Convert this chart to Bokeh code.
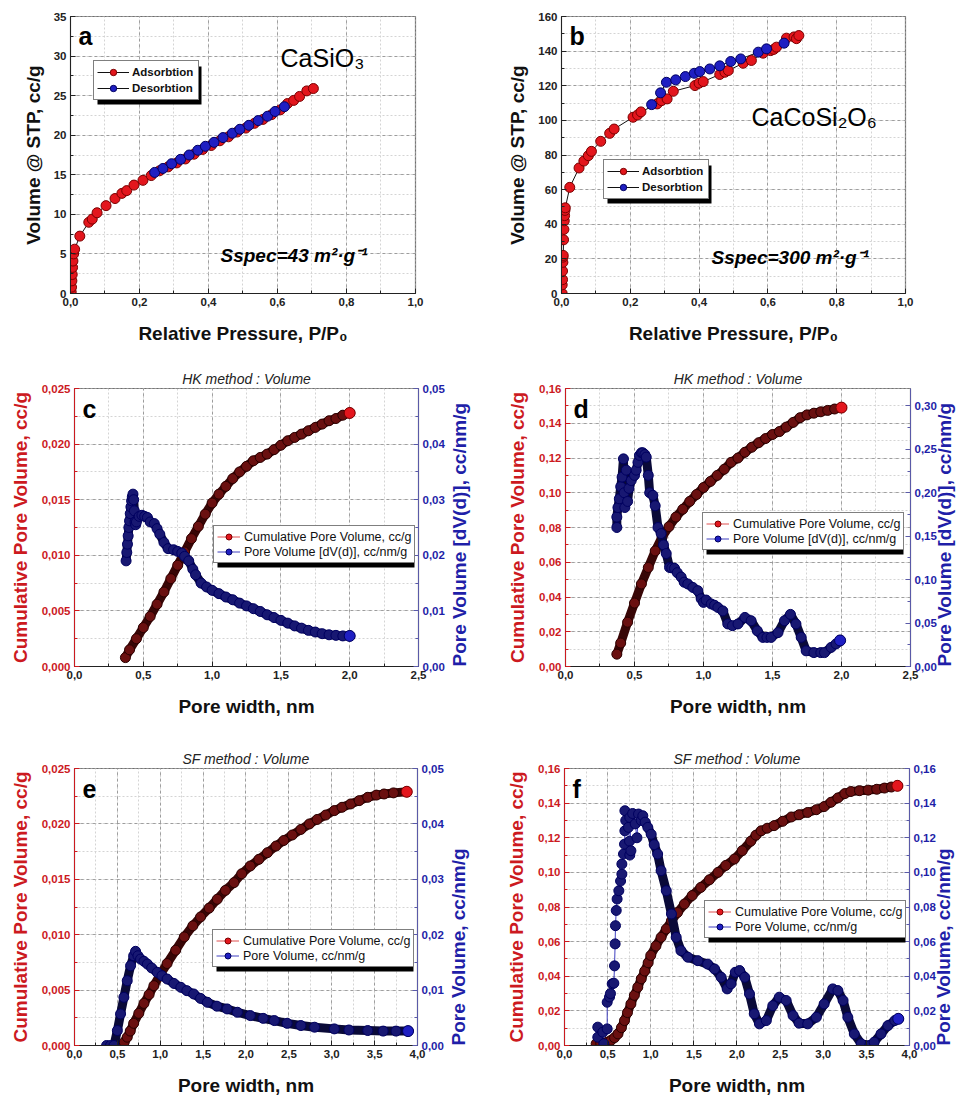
import math
from bokeh.plotting import figure
from bokeh.models import (Range1d, LinearAxis, SingleIntervalTicker, CustomJSTickFormatter,
                          Legend, LegendItem, Label, BoxAnnotation)
from bokeh.layouts import column, row
from bokeh.embed import file_html
from bokeh.resources import INLINE

# ---------------- data ----------------
# (a) CaSiO3 isotherm
a_ads_x = [0.002, 0.003, 0.004, 0.005, 0.006, 0.007, 0.009, 0.012, 0.027, 0.053,
           0.063, 0.077, 0.103, 0.129, 0.149, 0.163, 0.184, 0.210, 0.234, 0.258,
           0.283, 0.308, 0.333, 0.358, 0.383, 0.408, 0.433, 0.458, 0.483, 0.508,
           0.533, 0.558, 0.583, 0.608, 0.629, 0.647, 0.664, 0.685, 0.704]
a_ads_y = [0.2, 0.8, 1.6, 2.4, 3.3, 4.1, 5.0, 5.6, 7.25, 9.0,
           9.4, 10.2, 11.1, 12.0, 12.65, 13.0, 13.7, 14.3, 14.9, 15.5,
           16.0, 16.5, 17.0, 17.6, 18.2, 18.7, 19.3, 19.8, 20.4, 20.9,
           21.5, 22.0, 22.6, 23.2, 24.0, 24.4, 24.9, 25.6, 25.9]
a_des_x = [0.244, 0.268, 0.293, 0.319, 0.344, 0.369, 0.391, 0.416, 0.442, 0.469,
           0.491, 0.517, 0.544, 0.571, 0.593, 0.620]
a_des_y = [15.3, 15.8, 16.4, 16.95, 17.5, 18.1, 18.6, 19.1, 19.7, 20.25,
           20.75, 21.25, 21.85, 22.4, 23.0, 23.6]

# (b) CaCoSi2O6 isotherm
b_ads_x = [0.002, 0.002, 0.003, 0.003, 0.004, 0.004, 0.005, 0.006, 0.007, 0.008,
           0.009, 0.010, 0.011, 0.024, 0.051, 0.065, 0.078, 0.087, 0.114, 0.140,
           0.153, 0.208, 0.221, 0.231, 0.278, 0.291, 0.307, 0.325, 0.388, 0.400,
           0.412, 0.460, 0.475, 0.485, 0.528, 0.552, 0.586, 0.608, 0.617, 0.625,
           0.654, 0.676, 0.683, 0.690]
b_ads_y = [0, 5, 8, 13, 18, 21, 22, 31, 37, 42,
           45, 48, 49.5, 61.3, 72.5, 76.5, 79.6, 82.1, 87.9, 92.5,
           95.0, 101.8, 103.1, 104.9, 109.5, 111.4, 112.4, 116.8, 120.1, 121.5,
           122.4, 126.5, 127.8, 128.8, 133.0, 134.6, 138.8, 140.3, 141.0, 142.3,
           147.5, 148.2, 147.2, 149.0]
b_des_x = [0.262, 0.288, 0.305, 0.332, 0.360, 0.386, 0.402, 0.431, 0.460, 0.492,
           0.521, 0.572, 0.596, 0.647]
b_des_y = [109.1, 115.9, 122.0, 123.4, 125.3, 127.2, 128.2, 129.7, 131.5, 134.0,
           135.5, 139.4, 141.3, 144.6]

# (c) HK, CaSiO3
c_cum_x = [0.37, 0.40, 0.45, 0.50, 0.55, 0.60, 0.65, 0.70, 0.75, 0.80,
           0.85, 0.90, 0.95, 1.00, 1.05, 1.10, 1.15, 1.20, 1.25, 1.30,
           1.35, 1.40, 1.45, 1.50, 1.55, 1.60, 1.65, 1.70, 1.75, 1.80,
           1.85, 1.90, 1.95, 2.00]
c_cum_y = [0.0008, 0.0015, 0.0025, 0.0035, 0.0045, 0.0056, 0.0067, 0.0079, 0.0091, 0.0103,
           0.0115, 0.0126, 0.0137, 0.0147, 0.0155, 0.0162, 0.0169, 0.0175, 0.0180, 0.0185,
           0.0188, 0.0191, 0.0195, 0.0199, 0.0203, 0.0206, 0.0209, 0.0212, 0.0215, 0.0218,
           0.0221, 0.0223, 0.0226, 0.0228]
c_pv_x = [0.375, 0.38, 0.385, 0.39, 0.395, 0.40, 0.405, 0.41, 0.415, 0.42,
          0.425, 0.43, 0.435, 0.44, 0.445, 0.45, 0.47, 0.49, 0.51, 0.53,
          0.55, 0.58, 0.60, 0.62, 0.65, 0.68, 0.72, 0.75, 0.78, 0.80,
          0.83, 0.86, 0.88, 0.92, 0.96, 1.00, 1.05, 1.10, 1.15, 1.20,
          1.25, 1.30, 1.35, 1.40, 1.45, 1.50, 1.55, 1.60, 1.65, 1.70,
          1.75, 1.80, 1.85, 1.90, 1.95, 2.00]
c_pv_y = [0.019, 0.0205, 0.022, 0.0235, 0.025, 0.0262, 0.0275, 0.0287, 0.0298, 0.0305,
          0.031, 0.030, 0.028, 0.026, 0.0255, 0.026, 0.027, 0.0272, 0.027, 0.0268,
          0.026, 0.0257, 0.0248, 0.0238, 0.0223, 0.0212, 0.021, 0.0207, 0.0204, 0.0198,
          0.019, 0.0175, 0.0165, 0.0150, 0.0143, 0.0137, 0.0131, 0.0125, 0.0120, 0.0114,
          0.0109, 0.0104, 0.0099, 0.0093, 0.0088, 0.0083, 0.0078, 0.0073, 0.0069, 0.0065,
          0.0062, 0.0059, 0.0057, 0.0056, 0.0055, 0.0055]

# (d) HK, CaCoSi2O6
d_cum_x = [0.372, 0.40, 0.45, 0.50, 0.55, 0.60, 0.65, 0.70, 0.75, 0.80,
           0.85, 0.90, 0.95, 1.00, 1.05, 1.10, 1.15, 1.20, 1.25, 1.30,
           1.35, 1.40, 1.45, 1.50, 1.55, 1.60, 1.65, 1.70, 1.75, 1.80,
           1.85, 1.90, 1.95, 2.00]
d_cum_y = [0.0071, 0.0135, 0.0255, 0.0365, 0.0475, 0.057, 0.0665, 0.0745, 0.0805, 0.086,
           0.0905, 0.095, 0.099, 0.103, 0.1065, 0.110, 0.1135, 0.1175, 0.120, 0.1233,
           0.1262, 0.1288, 0.1312, 0.1335, 0.1352, 0.1378, 0.1405, 0.1432, 0.1448, 0.1458,
           0.1466, 0.1474, 0.1482, 0.149]
d_pv_x = [0.372, 0.372, 0.38, 0.39, 0.40, 0.41, 0.42, 0.425, 0.43, 0.44,
          0.45, 0.46, 0.476, 0.50, 0.512, 0.525, 0.536, 0.55, 0.56, 0.575,
          0.585, 0.60, 0.61, 0.633, 0.65, 0.67, 0.693, 0.71, 0.73, 0.754,
          0.77, 0.79, 0.81, 0.838, 0.86, 0.886, 0.923, 0.959, 0.983, 1.0,
          1.019, 1.056, 1.08, 1.104, 1.14, 1.176, 1.21, 1.25, 1.3, 1.345,
          1.39, 1.43, 1.46, 1.49, 1.54, 1.587, 1.63, 1.67, 1.708, 1.744,
          1.8, 1.85, 1.877, 1.925, 1.96, 1.99]
d_pv_y = [0.160, 0.172, 0.183, 0.193, 0.207, 0.218, 0.239, 0.200, 0.183, 0.226,
          0.190, 0.205, 0.214, 0.220, 0.226, 0.235, 0.243, 0.246, 0.246, 0.244,
          0.241, 0.220, 0.200, 0.197, 0.185, 0.160, 0.153, 0.140, 0.130, 0.114,
          0.1135, 0.113, 0.108, 0.103, 0.097, 0.095, 0.091, 0.0873, 0.078, 0.0738,
          0.0765, 0.072, 0.0705, 0.068, 0.064, 0.049, 0.047, 0.049, 0.0565, 0.0527,
          0.041, 0.0335, 0.0335, 0.0335, 0.039, 0.0527, 0.060, 0.049, 0.0335, 0.018,
          0.016, 0.016, 0.016, 0.022, 0.026, 0.030]

# (e) SF, CaSiO3
e_cum_x = [0.545, 0.58, 0.615, 0.65, 0.69, 0.75, 0.81, 0.87, 0.926, 1.0,
           1.08, 1.18, 1.28, 1.38, 1.47, 1.57, 1.665, 1.76, 1.86, 1.95,
           2.05, 2.15, 2.25, 2.35, 2.44, 2.54, 2.64, 2.74, 2.83, 2.93,
           3.03, 3.12, 3.22, 3.32, 3.42, 3.52, 3.61, 3.72, 3.875]
e_cum_y = [0.0, 0.0003, 0.00075, 0.0013, 0.002, 0.0029, 0.0038, 0.0046, 0.0054, 0.0064,
           0.0074, 0.0086, 0.0098, 0.0108, 0.0116, 0.0124, 0.0132, 0.014, 0.0147, 0.0155,
           0.0162, 0.0168, 0.0174, 0.018, 0.0185, 0.019, 0.0195, 0.020, 0.0204, 0.0208,
           0.0212, 0.0215, 0.0218, 0.0221, 0.0224, 0.0226, 0.0227, 0.0228, 0.0229]
e_pv_x = [0.374, 0.42, 0.46, 0.5, 0.537, 0.576, 0.615, 0.654, 0.69, 0.712,
          0.74, 0.77, 0.81, 0.85, 0.9, 0.965, 1.02, 1.08, 1.16, 1.24,
          1.31, 1.39, 1.47, 1.55, 1.66, 1.78, 1.9, 2.05, 2.2, 2.33,
          2.48, 2.64, 2.8, 3.03, 3.2, 3.42, 3.6, 3.75, 3.89]
e_pv_y = [0.0, 0.0, 0.0, 0.0027, 0.0057, 0.0087, 0.0117, 0.0144, 0.0162, 0.017,
          0.0162, 0.0156, 0.0152, 0.0147, 0.014, 0.0132, 0.0126, 0.012, 0.0112, 0.0105,
          0.0099, 0.0093, 0.0085, 0.0078, 0.0071, 0.0066, 0.006, 0.0054, 0.0049, 0.0045,
          0.004, 0.0036, 0.0033, 0.003, 0.0028, 0.0027, 0.0026, 0.0026, 0.0026]

# (f) SF, CaCoSi2O6
f_cum_x = [0.367, 0.42, 0.464, 0.5, 0.54, 0.58, 0.62, 0.66, 0.696, 0.73,
           0.77, 0.81, 0.85, 0.89, 0.93, 0.97, 1.0, 1.06, 1.12, 1.18,
           1.24, 1.31, 1.39, 1.48, 1.58, 1.68, 1.78, 1.87, 1.97, 2.06,
           2.16, 2.22, 2.28, 2.35, 2.43, 2.53, 2.63, 2.72, 2.82, 2.92,
           3.01, 3.09, 3.17, 3.25, 3.32, 3.42, 3.52, 3.62, 3.71, 3.79,
           3.86]
f_cum_y = [0.001, 0.0012, 0.0013, 0.002, 0.003, 0.0045, 0.0067, 0.0103, 0.0144, 0.019,
           0.024, 0.029, 0.0337, 0.0385, 0.043, 0.0478, 0.052, 0.0575, 0.0625, 0.0673,
           0.072, 0.0768, 0.0817, 0.0866, 0.0913, 0.0957, 0.100, 0.104, 0.1077, 0.1125,
           0.118, 0.1215, 0.124, 0.1255, 0.127, 0.1295, 0.132, 0.1333, 0.1346, 0.1362,
           0.138, 0.1405, 0.143, 0.1455, 0.1467, 0.1472, 0.1475, 0.148, 0.1487, 0.1493,
           0.150]
f_pv_x = [0.386, 0.386, 0.444, 0.456, 0.495, 0.495, 0.522, 0.533, 0.553, 0.572,
          0.58, 0.587, 0.591, 0.6, 0.61, 0.63, 0.65, 0.665, 0.665, 0.684,
          0.696, 0.70, 0.71, 0.70, 0.742, 0.754, 0.757, 0.77, 0.757, 0.79,
          0.82, 0.84, 0.858, 0.889, 0.908, 0.935, 0.966, 1.005, 1.04, 1.08,
          1.12, 1.18, 1.24, 1.295, 1.35, 1.43, 1.546, 1.66, 1.74, 1.816,
          1.886, 1.93, 1.98, 2.03, 2.09, 2.145, 2.2, 2.26, 2.34, 2.415,
          2.49, 2.57, 2.65, 2.72, 2.82, 2.92, 3.01, 3.11, 3.17, 3.23,
          3.285, 3.36, 3.44, 3.54, 3.59, 3.67, 3.75, 3.83, 3.87]
f_pv_y = [0.0106, 0.0048, 0.0077, 0.001, 0.0096, 0.025, 0.028, 0.030, 0.0356, 0.036,
          0.046, 0.0587, 0.0692, 0.078, 0.0846, 0.0894, 0.095, 0.099, 0.1048, 0.1106,
          0.1163, 0.124, 0.13, 0.1356, 0.126, 0.118, 0.11, 0.1125, 0.1317, 0.134,
          0.128, 0.12, 0.1337, 0.13, 0.1327, 0.129, 0.126, 0.122, 0.116, 0.1106,
          0.101, 0.0894, 0.076, 0.0625, 0.0548, 0.051, 0.049, 0.047, 0.0442, 0.0394,
          0.0327, 0.0356, 0.0423, 0.0433, 0.0394, 0.0298, 0.0183, 0.0125, 0.0144, 0.023,
          0.0279, 0.026, 0.0173, 0.0129, 0.0125, 0.0163, 0.024, 0.0327, 0.0317, 0.026,
          0.0163, 0.0067, 0.001, 0.0, 0.0019, 0.0067, 0.0115, 0.0144, 0.0154]
F_DENSE_START = 35

# ---------------- style ----------------
SANS = "Liberation Sans"
RED = "#e3161d"; RED_EDGE = "#7a0000"; RED_DENSE = "#6a1010"; RED_BAND = "#380606"
BLUE = "#1f1fc2"; BLUE_EDGE = "#000060"; BLUE_DENSE = "#181872"; BLUE_BAND = "#0a0a38"
AXRED = "#cc1a1f"; AXBLUE = "#1f1fa8"


def fmt(d):
    return CustomJSTickFormatter(args=dict(d=d), code="return tick.toFixed(d).replace('.', ',');")


def style_axis(ax, label, color, tick_color, standoff=4, line_color=None):
    ax.axis_label = label
    ax.axis_label_text_font = SANS
    ax.axis_label_text_font_style = "bold"
    ax.axis_label_text_font_size = "19px"
    ax.axis_label_text_color = color
    ax.axis_label_standoff = standoff
    ax.major_label_text_font = SANS
    ax.major_label_text_font_style = "bold"
    ax.major_label_text_font_size = "11.5px"
    ax.major_label_text_color = tick_color
    ax.major_label_standoff = 4
    lc = line_color or tick_color
    ax.axis_line_color = lc
    ax.major_tick_line_color = lc
    ax.minor_tick_line_color = lc
    ax.major_tick_in = 5
    ax.major_tick_out = 0
    ax.minor_tick_in = 3
    ax.minor_tick_out = 0


def make_fig(geo, xr, yr, xint, yint, xdec, ydec, title=None):
    W, H, bl, br, bt, bb = geo
    eps = (yr[1] - yr[0]) * 1e-6
    p = figure(width=W, height=H, x_range=Range1d(xr[0], xr[1] + 1e-6), y_range=Range1d(yr[0], yr[1] + eps),
               output_backend="svg", toolbar_location=None,
               min_border_left=bl, min_border_right=br, min_border_top=bt, min_border_bottom=bb)
    p.outline_line_color = "#6e6e6e"
    p.outline_line_width = 1.2
    xt = SingleIntervalTicker(interval=xint, num_minor_ticks=2)
    yt = SingleIntervalTicker(interval=yint, num_minor_ticks=2)
    p.xaxis[0].ticker = xt
    p.xgrid[0].ticker = xt
    p.yaxis[0].ticker = yt
    p.ygrid[0].ticker = yt
    p.xaxis[0].formatter = fmt(xdec)
    p.yaxis[0].formatter = fmt(ydec)
    p.grid.grid_line_color = "#8c8c8c"
    p.grid.grid_line_dash = "3 3"
    p.grid.grid_line_width = 0.8
    p.grid.minor_grid_line_color = "#d4d4d4"
    p.grid.minor_grid_line_dash = "2 2"
    if title:
        p.title.text = title
        p.title.text_font = SANS
        p.title.text_font_style = "italic"
        p.title.text_font_size = "14px"
        p.title.text_color = "#222222"
        p.title.align = "center"
        p.title.standoff = 4
    return p


def fx(geo, xr, px):
    W, H, bl, br, bt, bb = geo
    return xr[0] + px / (W - bl - br) * (xr[1] - xr[0])


def fy(geo, yr, py):
    W, H, bl, br, bt, bb = geo
    return yr[0] + py / (H - bt - bb) * (yr[1] - yr[0])


def add_text(p, geo, xr, yr, px, py, text, size, style="bold", color="black"):
    p.add_layout(Label(x=fx(geo, xr, px), y=fy(geo, yr, py), text=text, text_font=SANS,
                       text_font_size=size, text_font_style=style, text_color=color,
                       text_baseline="middle", text_align="left"))


def add_legend(p, geo, xr, yr, items, lx, ly, pad, glyph_w, standoff, label_w, row_h,
               font_size, font_style):
    lw = 2 * pad + glyph_w + standoff + label_w
    lh = 2 * pad + 2 * row_h
    p.add_layout(BoxAnnotation(left=fx(geo, xr, lx + 4), right=fx(geo, xr, lx + 4 + lw),
                               bottom=fy(geo, yr, ly - 4), top=fy(geo, yr, ly - 4 + lh),
                               fill_color="black", fill_alpha=1.0, line_color=None))
    leg = Legend(items=items, location=(lx, ly), padding=pad, spacing=0, margin=0,
                 glyph_width=glyph_w, glyph_height=row_h, label_height=row_h,
                 label_width=label_w, label_standoff=standoff,
                 border_line_color="black", border_line_width=1,
                 background_fill_color="white", background_fill_alpha=1.0,
                 label_text_font=SANS, label_text_font_size=font_size,
                 label_text_font_style=font_style, label_text_color="#111111")
    p.add_layout(leg)


def iso_panel(geo, yr, yint, ads_x, ads_y, des_x, des_y, letter, formula, fpos, sspec, spos, lpos):
    xr = (0.0, 1.0)
    p = make_fig(geo, xr, yr, 0.2, yint, 1, 0)
    style_axis(p.xaxis[0], "Relative Pressure, P/P\u2080", "#111111", "#222222", standoff=14)
    style_axis(p.yaxis[0], "Volume @ STP, cc/g", "#111111", "#222222", standoff=7)
    la = p.line(ads_x, ads_y, line_color="#111111", line_width=1)
    ld = p.line(des_x, des_y, line_color="#111111", line_width=1)
    ra = p.scatter(ads_x, ads_y, marker="circle", size=10, fill_color=RED, line_color=RED_EDGE, line_width=1)
    rd = p.scatter(des_x, des_y, marker="circle", size=10, fill_color=BLUE, line_color=BLUE_EDGE, line_width=1)
    add_text(p, geo, xr, yr, 8, geo[1] - geo[4] - geo[5] - 19, letter, "25px")
    add_text(p, geo, xr, yr, fpos[0], fpos[1], formula, "25px", style="normal")
    add_text(p, geo, xr, yr, spos[0], spos[1], sspec, "19px", style="bold italic")
    items = [LegendItem(label="Adsorbtion", renderers=[la, ra]),
             LegendItem(label="Desorbtion", renderers=[ld, rd])]
    add_legend(p, geo, xr, yr, items, lpos[0], lpos[1], 3, 32, 3, 63, 16, "11.5px", "bold")
    return p


def pore_panel(geo, xr, yr, yint, ydec, rr, rint, title, letter, cx, cy, px_, py_, r_label,
               lpos, r_standoff, dense_start=0):
    p = make_fig(geo, xr, yr, 0.5, yint, 1, ydec, title=title)
    style_axis(p.xaxis[0], "Pore width, nm", "#111111", "#222222", standoff=14)
    style_axis(p.yaxis[0], "Cumulative Pore Volume, cc/g", AXRED, AXRED, standoff=8)
    p.extra_y_ranges = {"r": Range1d(rr[0], rr[1] + (rr[1] - rr[0]) * 1e-6)}
    ax = LinearAxis(y_range_name="r", ticker=SingleIntervalTicker(interval=rint, num_minor_ticks=2),
                    formatter=fmt(2))
    style_axis(ax, r_label, AXBLUE, AXBLUE, standoff=r_standoff, line_color="#5a5aa8")
    p.add_layout(ax, "right")
    # right-hand axis title reads bottom-to-top, as in the original
    try:
        ax.axis_label_orientation = math.pi / 2
        ax.axis_label_align = "start"
    except AttributeError:
        pass
    # thin connecting lines (legend glyphs)
    tr = p.line(cx, cy, line_color="#e05050", line_width=1)
    tb = p.line(px_, py_, line_color="#4040c0", line_width=1, y_range_name="r")
    # dense cumulative curve
    p.line(cx, cy, line_color=RED_BAND, line_width=9)
    p.scatter(cx, cy, marker="circle", size=10, fill_color=RED_DENSE, line_color="#2a0000", line_width=1)
    # pore volume curve
    p.line(px_[dense_start:], py_[dense_start:], line_color=BLUE_BAND, line_width=9, y_range_name="r")
    p.scatter(px_, py_, marker="circle", size=10, fill_color=BLUE_DENSE, line_color=BLUE_EDGE,
              line_width=1, y_range_name="r")
    er = p.scatter(cx[-1:], cy[-1:], marker="circle", size=11, fill_color=RED, line_color=RED_EDGE)
    eb = p.scatter(px_[-1:], py_[-1:], marker="circle", size=11, fill_color=BLUE, line_color=BLUE_EDGE,
                   y_range_name="r")
    add_text(p, geo, xr, yr, 8, geo[1] - geo[4] - geo[5] - 20, letter, "25px")
    items = [LegendItem(label="Cumulative Pore Volume, cc/g", renderers=[tr, er]),
             LegendItem(label=r_label, renderers=[tb, eb])]
    add_legend(p, geo, xr, yr, items, lpos[0], lpos[1], 3, 23, 4, 164, 15, "12.5px", "normal")
    return p


GA = (484, 350, 70, 69, 16, 57)
GB = (484, 350, 77, 63, 16, 57)
GC = (484, 370, 74, 66, 38, 54)
GD = (484, 370, 81, 58, 38, 54)
GE = (484, 380, 74, 67, 48, 55)
GF = (484, 380, 80, 59, 48, 55)

pa = iso_panel(GA, (0, 35), 5, a_ads_x, a_ads_y, a_des_x, a_des_y, "a",
               "CaSiO\u2083", (210, 236), "Sspec=43 m\u00b2\u00b7g\u207b\u00b9", (150, 38), (23, 193))
pb = iso_panel(GB, (0, 160), 20, b_ads_x, b_ads_y, b_des_x, b_des_y, "b",
               "CaCoSi\u2082O\u2086", (190, 177), "Sspec=300 m\u00b2\u00b7g\u207b\u00b9", (150, 36), (42, 94))

pc = pore_panel(GC, (0, 2.5), (0, 0.025), 0.005, 3, (0, 0.05), 0.01, "HK method : Volume", "c",
                c_cum_x, c_cum_y, c_pv_x, c_pv_y, "Pore Volume [dV(d)], cc/nm/g", (139, 103), 12)
pd_ = pore_panel(GD, (0, 2.5), (0, 0.16), 0.02, 2, (0, 0.32), 0.05, "HK method : Volume", "d",
                 d_cum_x, d_cum_y, d_pv_x, d_pv_y, "Pore Volume [dV(d)], cc/nm/g", (137, 116), 5)
pe = pore_panel(GE, (0, 4.0), (0, 0.025), 0.005, 3, (0, 0.05), 0.01, "SF method : Volume", "e",
                e_cum_x, e_cum_y, e_pv_x, e_pv_y, "Pore Volume, cc/nm/g", (138, 78), 12)
pf = pore_panel(GF, (0, 4.0), (0, 0.16), 0.02, 2, (0, 0.16), 0.02, "SF method : Volume", "f",
                f_cum_x, f_cum_y, f_pv_x, f_pv_y, "Pore Volume, cc/nm/g", (140, 107), 5,
                dense_start=F_DENSE_START)

layout = column(row(pa, pb), row(pc, pd_), row(pe, pf))
open("out.html", "w").write(file_html(layout, INLINE))
